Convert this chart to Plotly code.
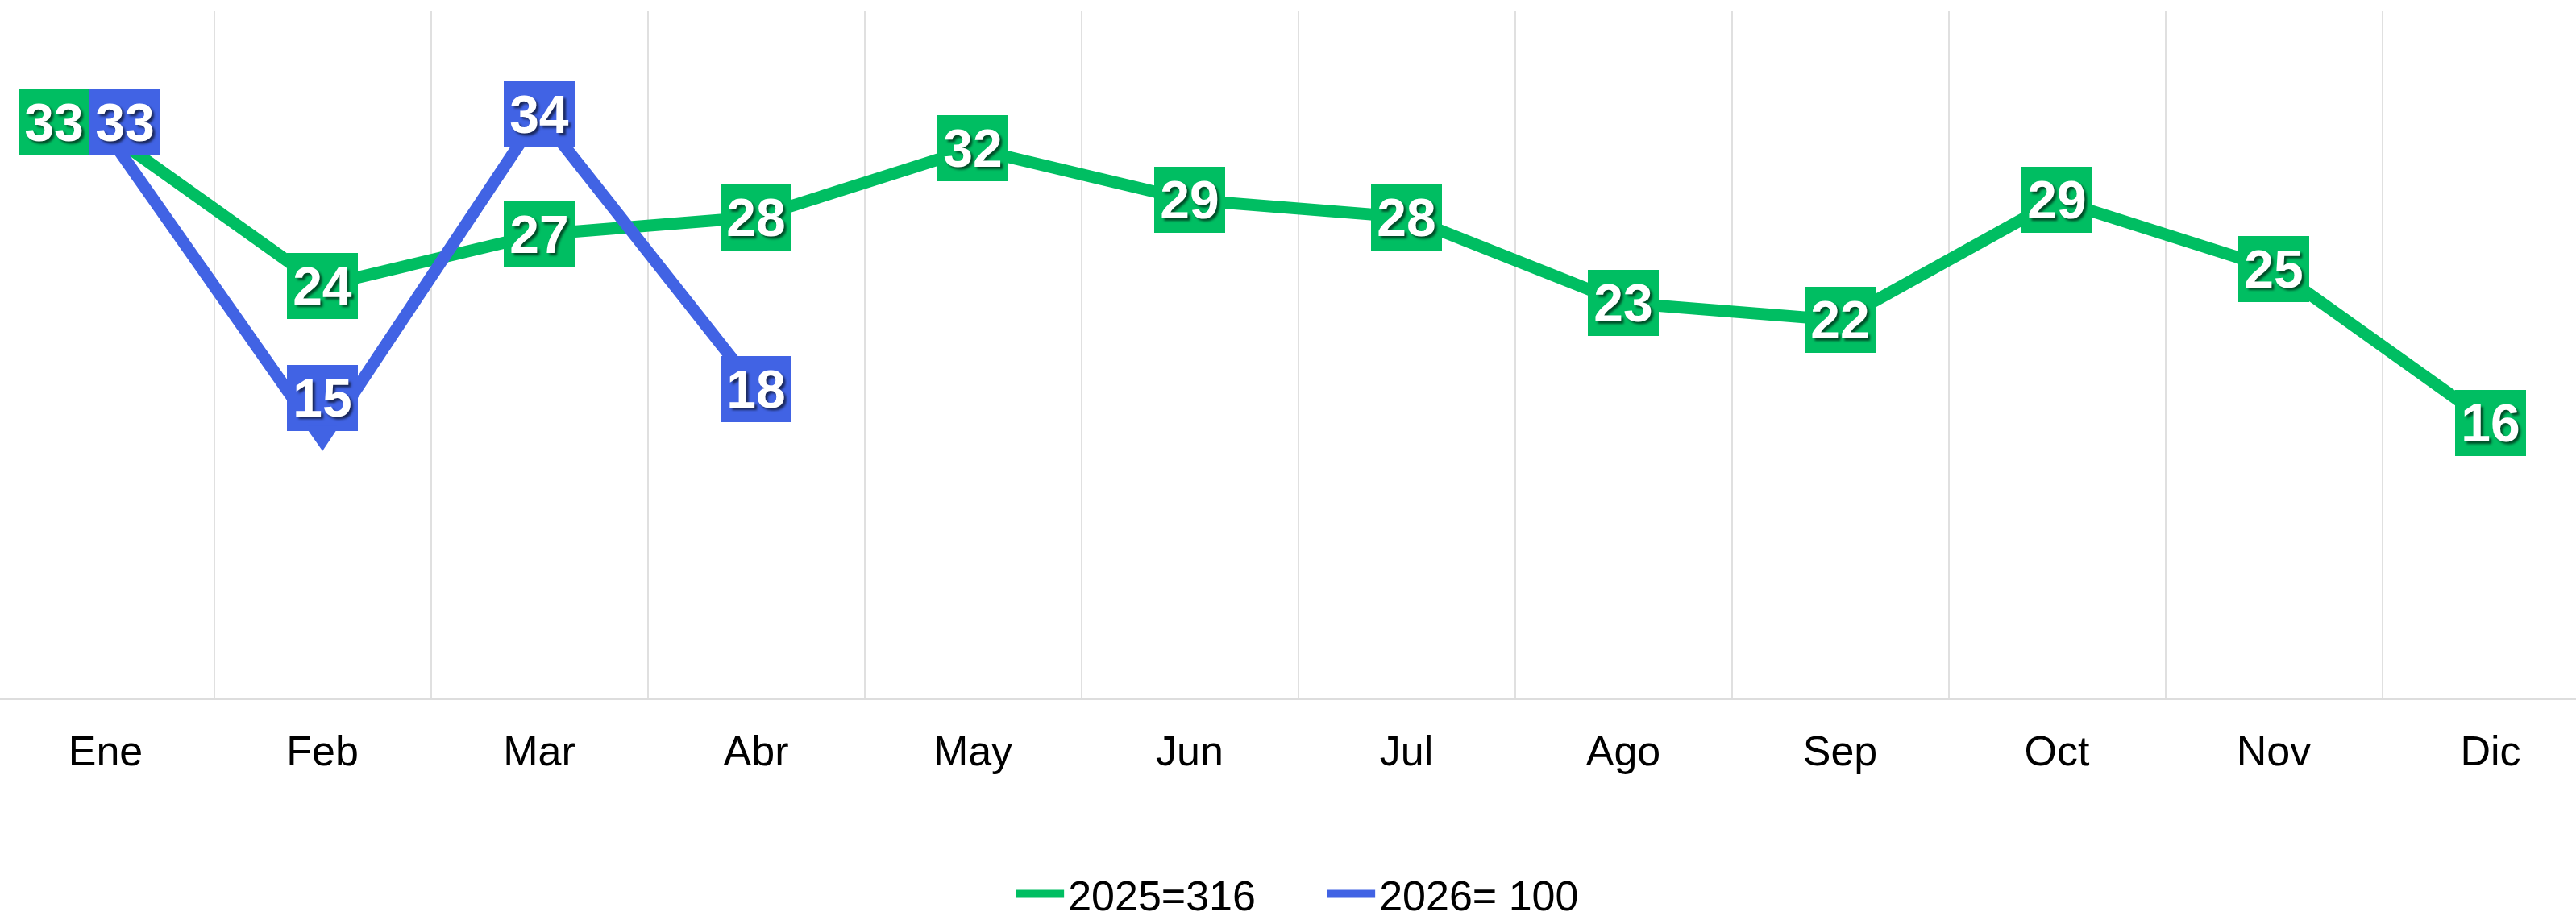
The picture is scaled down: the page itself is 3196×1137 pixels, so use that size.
import plotly.graph_objects as go

months = ["Ene", "Feb", "Mar", "Abr", "May", "Jun", "Jul", "Ago", "Sep", "Oct", "Nov", "Dic"]
values_2025 = [33, 24, 27, 28, 32, 29, 28, 23, 22, 29, 25, 16]
values_2026 = [33, 15, 34, 18]
series_names = ["2025=316", "2026= 100"]

GREEN = "#00BE62"
BLUE = "#4163E4"
FONT = "Arial, Liberation Sans, sans-serif"

# label placement tweaks (index -> (xshift, yshift, arrow_ay))
label_offsets_2025 = {0: (-64, 11, None)}
label_offsets_2026 = {0: (24, 11, None), 1: (0, 0, -53)}

fig = go.Figure()
fig.add_trace(go.Scatter(x=months, y=values_2025, mode="lines", name=series_names[0],
                         line=dict(color=GREEN, width=15)))
fig.add_trace(go.Scatter(x=months[:len(values_2026)], y=values_2026, mode="lines", name=series_names[1],
                         line=dict(color=BLUE, width=15)))

annotations = []
for vals, color, offs in [(values_2025, GREEN, label_offsets_2025), (values_2026, BLUE, label_offsets_2026)]:
    for i, v in enumerate(vals):
        xs, ys, ay = offs.get(i, (0, 0, None))
        ann = dict(x=months[i], y=v, xref="x", yref="y", text=str(v),
                   font=dict(family=FONT, size=66, color="white", weight="bold",
                             shadow="3px 3px 3px rgba(0,0,0,0.6)"),
                   bgcolor=color, borderpad=0, borderwidth=0, width=88, height=82,
                   align="center", valign="middle", xshift=xs, yshift=ys)
        if ay is not None:
            ann.update(showarrow=True, ax=0, ay=ay, arrowhead=1, arrowsize=3, arrowwidth=2,
                       arrowcolor=color, standoff=0)
        else:
            ann.update(showarrow=False, xanchor="center", yanchor="middle")
        annotations.append(ann)

unit = 269.0
left_px = 131.0
W, H = 3196, 1137
x0 = -left_px / unit
x1 = x0 + W / unit

fig.update_layout(
    width=W, height=H,
    margin=dict(l=0, r=0, t=14, b=271),
    plot_bgcolor="white", paper_bgcolor="white",
    font=dict(family=FONT, color="black"),
    annotations=annotations,
    showlegend=True,
    legend=dict(orientation="h", x=0.5135, xanchor="center", y=0.024, yref="container", yanchor="middle",
                font=dict(size=52, family=FONT, color="black"), itemwidth=60, traceorder="normal",
                entrywidth=311),
    xaxis=dict(type="category", range=[x0, x1], tickson="boundaries", showgrid=True,
               gridcolor="#E0E0E0", gridwidth=2, ticks="", showline=True, linecolor="#DDDDDD",
               linewidth=3, tickfont=dict(size=52, family=FONT, color="black"),
               ticklabelstandoff=19, zeroline=False, fixedrange=True),
    yaxis=dict(range=[0, 40], showgrid=False, zeroline=False, showticklabels=False, ticks="",
               showline=False, fixedrange=True),
)

fig.write_html("out.html", config={"displayModeBar": False},
               post_script="document.body.style.margin='0';")
